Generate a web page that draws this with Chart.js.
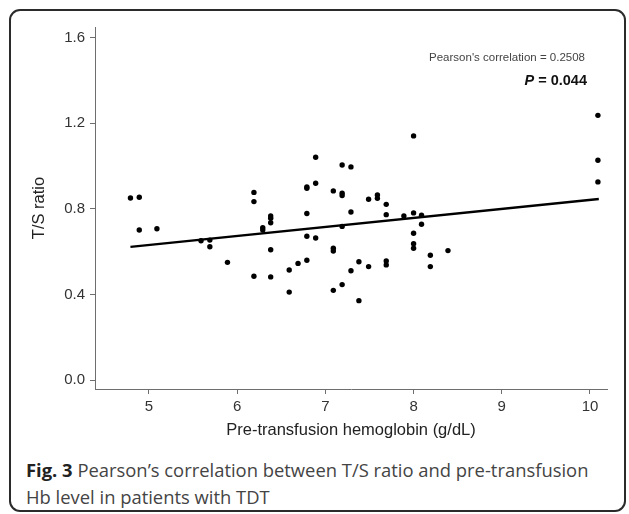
<!DOCTYPE html>
<html>
<head>
<meta charset="utf-8">
<script src="https://cdn.jsdelivr.net/npm/chart.js@4"></script>
<style>
  html, body { margin: 0; padding: 0; background: #fff; }
  body { width: 629px; height: 514px; position: relative; overflow: hidden; }
  #card {
    position: absolute; left: 9px; top: 9px; width: 617px; height: 503px;
    border: 2px solid #2b2b2b; border-radius: 11px; box-sizing: border-box;
  }
  #chart { position: absolute; left: 0; top: 0; }
  .note { position: absolute; font-family: "Liberation Sans", Arial, sans-serif; white-space: nowrap; }
  #pearson { right: 44px; top: 51px; font-size: 11.5px; color: #444; }
  #pval { right: 42px; top: 72px; font-size: 14.5px; font-weight: bold; color: #111; }
  #caption {
    position: absolute; left: 26px; top: 456px; width: 600px; white-space: nowrap;
    font-family: "Open Sans", sans-serif; font-size: 18.4px; line-height: 27px; color: #444;
  }
  #caption b { color: #222; }
</style>
</head>
<body>
<div id="card"></div>
<canvas id="chart" width="629" height="450"></canvas>
<div class="note" id="pearson">Pearson's correlation = 0.2508</div>
<div class="note" id="pval"><i>P</i> = 0.044</div>
<div id="caption"><b>Fig. 3</b> Pearson’s correlation between T/S ratio and pre-transfusion<br>Hb level in patients with TDT</div>

<script>
// pre-transfusion Hb (g/dL) and T/S ratio
const hbValues = [4.79, 4.89, 4.89, 5.09, 5.59, 5.69, 5.69, 5.89,
  6.19, 6.19, 6.19, 6.29, 6.29, 6.38, 6.38, 6.38, 6.38, 6.38,
  6.59, 6.59, 6.69, 6.79, 6.79, 6.79, 6.79, 6.79, 6.89, 6.89, 6.89,
  7.09, 7.09, 7.09, 7.09, 7.19, 7.19, 7.19, 7.19, 7.19, 7.29, 7.29, 7.29,
  7.38, 7.38, 7.49, 7.49, 7.59, 7.59, 7.69, 7.69, 7.69, 7.69, 7.89,
  8.0, 8.0, 8.0, 8.0, 8.0, 8.09, 8.09, 8.19, 8.19, 8.39,
  10.09, 10.09, 10.09];
const tsValues = [0.851, 0.854, 0.701, 0.707, 0.651, 0.654, 0.623, 0.550,
  0.877, 0.834, 0.485, 0.712, 0.701, 0.767, 0.756, 0.735, 0.609, 0.482,
  0.514, 0.411, 0.545, 0.902, 0.896, 0.778, 0.672, 0.560, 1.041, 0.920, 0.664,
  0.884, 0.616, 0.603, 0.419, 1.005, 0.873, 0.862, 0.718, 0.446, 0.996, 0.785, 0.511,
  0.553, 0.371, 0.845, 0.530, 0.865, 0.849, 0.821, 0.773, 0.556, 0.538, 0.767,
  1.141, 0.781, 0.686, 0.637, 0.616, 0.770, 0.728, 0.583, 0.530, 0.605,
  1.237, 1.027, 0.926];

// fitted line ends
const fitX = [4.79, 10.1];
const fitY = [0.622, 0.846];

const xTicks = [5, 6, 7, 8, 9, 10];
const yTicks = [0.0, 0.4, 0.8, 1.2, 1.6];

const points = hbValues.map((x, i) => ({ x: x, y: tsValues[i] }));
const fitLine = fitX.map((x, i) => ({ x: x, y: fitY[i] }));

const axisColor = "#6e6e6e";
const tickFont = { family: "'Liberation Sans', Arial, sans-serif", size: 15 };
const titleFont = { family: "'Liberation Sans', Arial, sans-serif", size: 16.5 };

new Chart(document.getElementById("chart"), {
  type: "scatter",
  data: {
    datasets: [
      {
        label: "T/S ratio",
        data: points,
        pointRadius: 2.7,
        pointHoverRadius: 2.7,
        backgroundColor: "#000",
        borderWidth: 0
      },
      {
        type: "line",
        label: "fit",
        data: fitLine,
        borderColor: "#000",
        borderWidth: 2.3,
        pointRadius: 0,
        fill: false
      }
    ]
  },
  options: {
    responsive: false,
    animation: false,
    layout: { padding: { top: 27, right: 22, left: 0, bottom: 0 } },
    plugins: { legend: { display: false }, tooltip: { enabled: false } },
    scales: {
      x: {
        type: "linear",
        min: 4.388,
        max: 10.193,
        afterBuildTicks: s => { s.ticks = xTicks.map(v => ({ value: v })); },
        afterFit: s => { s.height = 61; },
        border: { color: axisColor, width: 1 },
        grid: { drawOnChartArea: false, drawTicks: true, tickLength: 5, color: axisColor },
        ticks: { color: "#333", font: tickFont, padding: 4, maxRotation: 0 },
        title: {
          display: true, text: "Pre-transfusion hemoglobin (g/dL)", color: "#222",
          font: titleFont,
          padding: { top: 10, bottom: 10 }
        }
      },
      y: {
        min: -0.042,
        max: 1.65,
        afterBuildTicks: s => { s.ticks = yTicks.map(v => ({ value: v })); },
        afterFit: s => { s.width = 95; },
        border: { color: axisColor, width: 1 },
        grid: { drawOnChartArea: false, drawTicks: true, tickLength: 5, color: axisColor },
        ticks: { color: "#333", font: tickFont, padding: 5, callback: v => v.toFixed(1) },
        title: {
          display: true, text: "T/S ratio", color: "#222",
          font: titleFont,
          padding: { top: 30, bottom: 30 }
        }
      }
    }
  }
});
</script>
</body>
</html>
